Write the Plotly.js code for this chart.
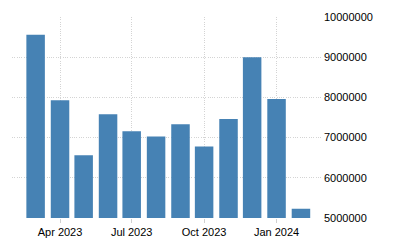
<!DOCTYPE html>
<html>
<head>
<meta charset="utf-8">
<script src="https://cdn.plot.ly/plotly-3.0.1.min.js"></script>
<style>html,body{margin:0;padding:0;background:#fff}#chart{width:400px;height:250px}</style>
</head>
<body>
<div id="chart"></div>
<script>
var months = ["2023-03-01","2023-04-01","2023-05-01","2023-06-01","2023-07-01","2023-08-01","2023-09-01","2023-10-01","2023-11-01","2023-12-01","2024-01-01","2024-02-01"];
var values = [9560000, 7930000, 6560000, 7580000, 7160000, 7030000, 7330000, 6780000, 7460000, 9000000, 7960000, 5230000];
var yTicks = [5000000, 6000000, 7000000, 8000000, 9000000, 10000000];

var DAY = 86400000;
var trace = {
  type: 'bar',
  x: months,
  y: values,
  base: 0,
  width: months.map(function(){return 23.5*DAY;}),
  marker: {color: '#4682B4', line: {width: 0}},
  hoverinfo: 'x+y'
};
var layout = {
  width: 400, height: 250,
  margin: {l: 12, r: 77, t: 17, b: 32},
  paper_bgcolor: '#fff', plot_bgcolor: '#fff',
  showlegend: false,
  font: {family: 'Liberation Sans, Arial, sans-serif', size: 11, color: '#000'},
  xaxis: {
    type: 'date',
    range: ['2023-01-30', '2024-02-29'],
    tick0: '2023-01-01', dtick: 'M3',
    tickformat: '%b %Y',
    showgrid: true, gridcolor: '#d4d4d4', griddash: '1px,1.3px', gridwidth: 1,
    ticks: 'outside', ticklen: 4, tickcolor: '#d0d0d0',
    showline: false, zeroline: false,
    tickfont: {size: 11, color: '#000'}
  },
  yaxis: {
    side: 'right',
    range: [5000000, 10000000],
    tickvals: yTicks,
    tickformat: 'd',
    showgrid: true, gridcolor: '#d4d4d4', griddash: '1px,1.3px', gridwidth: 1,
    ticks: '', showline: false, zeroline: false,
    tickfont: {size: 11, color: '#000'}
  },
  bargap: 0.2
};
Plotly.newPlot('chart', [trace], layout, {displayModeBar: false, staticPlot: true});
</script>
</body>
</html>
